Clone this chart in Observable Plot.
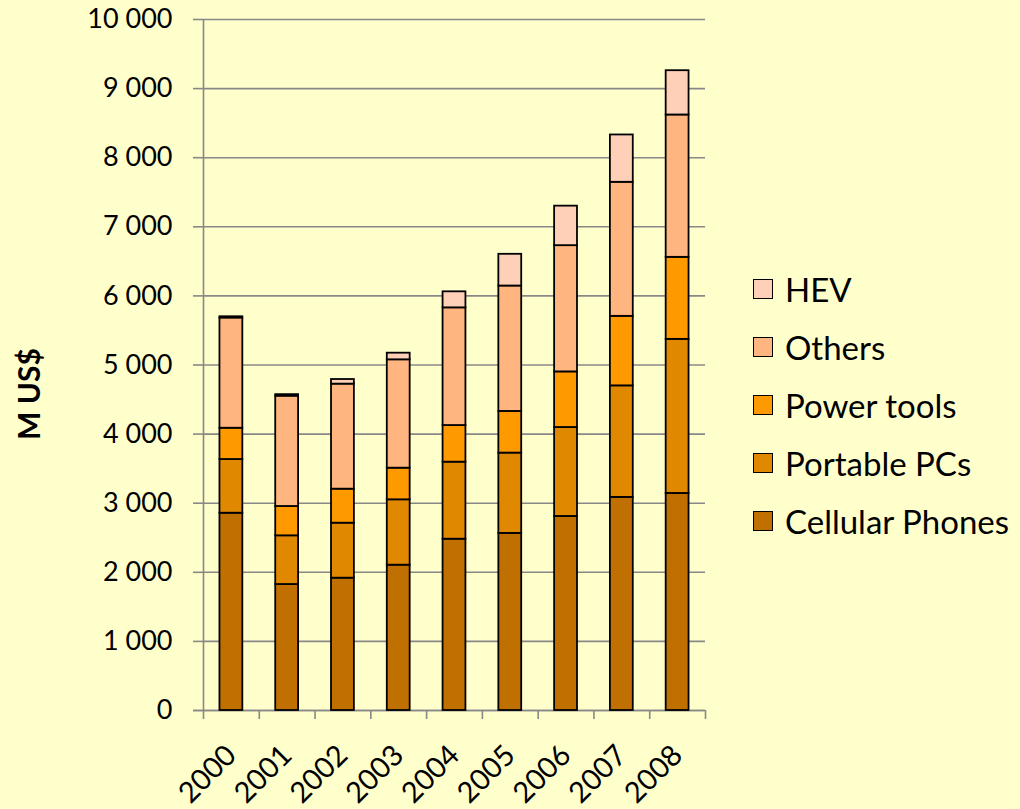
<!DOCTYPE html>
<html>
<head>
<meta charset="utf-8">
<script src="https://cdn.jsdelivr.net/npm/d3@7"></script>
<script src="https://cdn.jsdelivr.net/npm/@observablehq/plot@0.6"></script>
<style>
  html, body { margin: 0; padding: 0; background: #FFFFCC; }
  #wrap { position: relative; width: 1020px; height: 809px; overflow: hidden; font-family: Lato, "Open Sans", sans-serif; }
  #legend { position: absolute; left: 753px; top: 260px; }
  .item { display: flex; align-items: center; height: 58px; font-size: 33px; color: #000; }
  .sw { width: 18px; height: 18px; border: 1.6px solid #000; margin-right: 12px; box-sizing: content-box; }
  #ytitle { position: absolute; left: 28px; top: 394px; transform: translate(-50%, -50%) rotate(-90deg); font-size: 30px; font-weight: bold; white-space: nowrap; color: #000; }
</style>
</head>
<body>
<div id="wrap"></div>
<script>
const years = ["2000","2001","2002","2003","2004","2005","2006","2007","2008"];
const series = ["Cellular Phones","Portable PCs","Power tools","Others","HEV"];
const cellular = [2855,1823,1915,2103,2479,2563,2808,3084,3141];
const portable = [777,705,796,946,1115,1162,1287,1614,2230];
const power    = [453,424,492,458,530,603,805,1006,1187];
const others   = [1595,1597,1520,1568,1703,1815,1827,1940,2060];
const hev      = [18,22,67,96,232,459,572,685,641];
const colors = ["#C07000","#E08800","#FF9900","#FFB580","#FFD0B8"];
const yTicks = [0,1000,2000,3000,4000,5000,6000,7000,8000,9000,10000];
const yTitle = "M US$";

const valuesBySeries = [cellular, portable, power, others, hev];
const data = [];
series.forEach((s, si) => years.forEach((y, yi) => data.push({year: y, series: s, value: valuesBySeries[si][yi]})));

const W = 1020, H = 809, mL = 203, mR = 315, mT = 19, mB = 99;
const step = (W - mL - mR) / years.length;
const fmt = d3.formatLocale({thousands: "\u2009", grouping: [3], decimal: "."}).format(",");
const fmtSp = d => fmt(d).replace("\u2009", " ");
const tickDown = -10000 * 9 / (H - mT - mB);
const pad = 0.59;

const chart = Plot.plot({
  width: W, height: H,
  marginLeft: mL, marginRight: mR, marginTop: mT, marginBottom: mB,
  style: {background: "#FFFFCC", fontFamily: "Lato, 'Open Sans', sans-serif", color: "#000", overflow: "visible"},
  x: {domain: years, paddingInner: pad, paddingOuter: pad / 2, round: false, label: null},
  y: {domain: [0, 10000], label: null},
  color: {domain: series, range: colors},
  marks: [
    Plot.gridY(yTicks, {stroke: "#888", strokeOpacity: 1, strokeWidth: 1.6}),
    Plot.axisY(yTicks, {tickSize: 10, tickPadding: 21, stroke: "#888", strokeWidth: 1.6, fontSize: 27, tickFormat: fmtSp, label: null}),
    Plot.ruleY([0], {stroke: "#888", strokeWidth: 1.6, insetLeft: -10}),
    Plot.ruleX([years[0]], {dx: -step / 2, y1: 0, y2: 10000, stroke: "#888", strokeWidth: 1.6}),
    Plot.ruleX(years, {dx: -step / 2, y1: 0, y2: tickDown, stroke: "#888", strokeWidth: 1.6}),
    Plot.ruleX([years[years.length - 1]], {dx: step / 2, y1: 0, y2: tickDown, stroke: "#888", strokeWidth: 1.6}),
    Plot.barY(data, Plot.stackY({x: "year", y: "value", fill: "series", order: series, stroke: "#000", strokeWidth: 1.8})),
    Plot.axisX({tickSize: 0, tickPadding: 40, tickRotate: -45, fontSize: 29, label: null})
  ]
});

const wrap = document.getElementById("wrap");
wrap.appendChild(chart);
const yt = document.createElement("div");
yt.id = "ytitle";
yt.textContent = yTitle;
wrap.appendChild(yt);
const legend = document.createElement("div");
legend.id = "legend";
series.slice().reverse().forEach(s => {
  const item = document.createElement("div");
  item.className = "item";
  const sw = document.createElement("div");
  sw.className = "sw";
  sw.style.background = colors[series.indexOf(s)];
  const t = document.createElement("span");
  t.textContent = s;
  item.appendChild(sw); item.appendChild(t);
  legend.appendChild(item);
});
wrap.appendChild(legend);
</script>
</body>
</html>
